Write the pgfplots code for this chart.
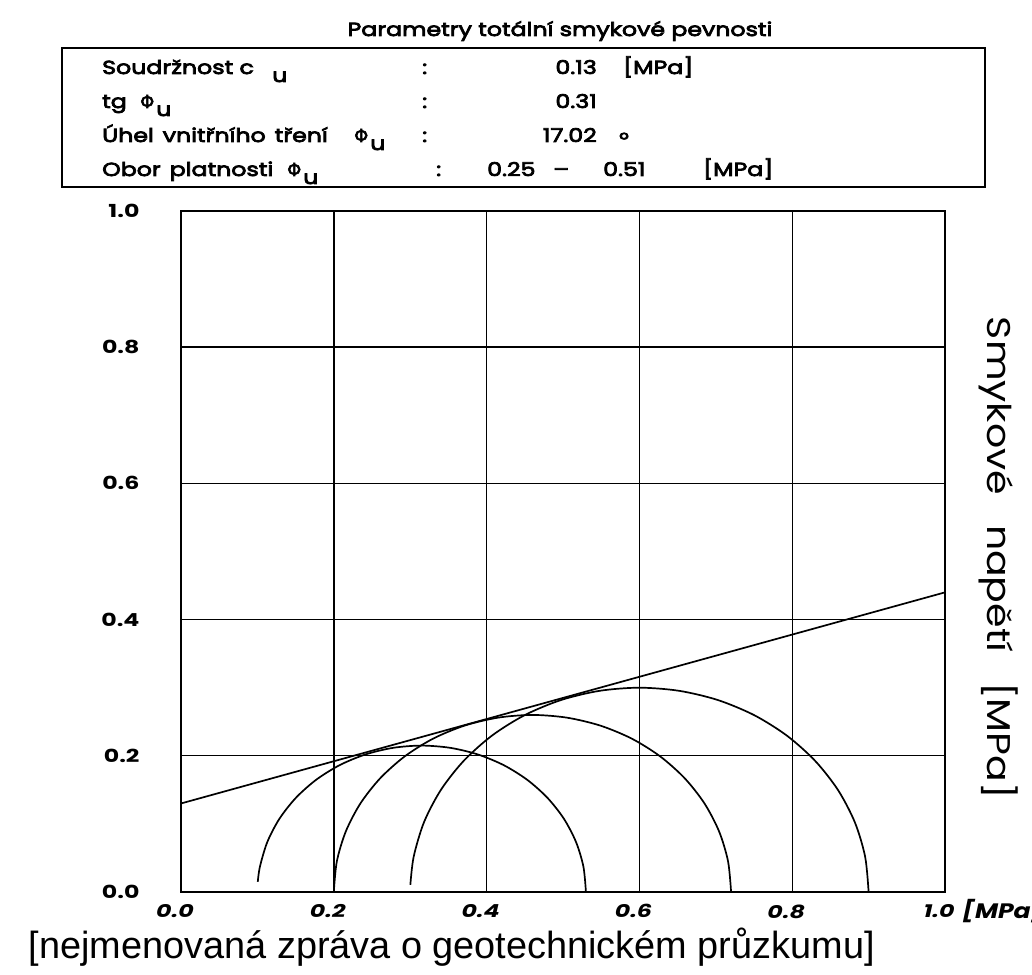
\documentclass[border=0pt]{standalone}
\usepackage{pgfplots}
\pgfplotsset{compat=1.18}
\usepackage{fontspec}
\setmainfont{Poppins}
% wide plotter-like lettering
\newfontfamily\pf{Poppins}[FakeStretch=1.2]
\newfontfamily\pft{Poppins}[FakeStretch=1.32]
\newfontfamily\pfm{Poppins}[FakeStretch=1.25, FakeBold=4]
\newfontfamily\capfont{Liberation Sans}
\newfontfamily\grk{DejaVu Sans}[FakeBold=3]

\begin{document}
\begin{tikzpicture}[x=1bp,y=1bp]
\useasboundingbox (0,0) rectangle (1032,975);

\begin{axis}[
  at={(181bp,83bp)}, anchor=south west,
  scale only axis, width=764bp, height=681bp,
  xmin=0, xmax=1, ymin=0, ymax=1,
  xtick={0,0.2,0.4,0.6,0.8,1}, ytick={0,0.2,0.4,0.6,0.8,1},
  xticklabels={0.0,0.2,0.4,0.6,0.8,1.0},
  yticklabels={0.0,0.2,0.4,0.6,0.8,1.0},
  grid=major, major grid style={black, line width=1.4bp},
  axis line style={black, line width=1.9bp},
  major tick length=0pt,
  xticklabel style={font=\pft\fontsize{18}{20}\selectfont\bfseries\itshape, xshift=-6bp, yshift=-9bp},
  yticklabel style={font=\pft\fontsize{18}{20}\selectfont\bfseries, xshift=-38bp},
]
% failure envelope tau = c_u + sigma * tg(phi_u)
\addplot[black, line width=1.7bp] coordinates {(0,0.13) (1,0.44)};
% Mohr circles
\addplot[black, line width=1.7bp, smooth] coordinates {
 (0.530,0) (0.5267,0.0373) (0.5170,0.0735) (0.5012,0.1075) (0.4797,0.1382)
 (0.4532,0.1647) (0.4225,0.1862) (0.3885,0.2020) (0.3523,0.2117) (0.315,0.215)
 (0.2777,0.2117) (0.2415,0.2020) (0.2075,0.1862) (0.1768,0.1647) (0.1503,0.1382)
 (0.1288,0.1075) (0.1130,0.0735) (0.1033,0.0373) (0.1005,0.0150)};
\addplot[black, line width=1.7bp, smooth] coordinates {
 (0.72,0) (0.7160,0.0451) (0.7043,0.0889) (0.6852,0.13) (0.6592,0.1671)
 (0.6271,0.1992) (0.59,0.2252) (0.5489,0.2443) (0.5051,0.2560) (0.46,0.26)
 (0.4149,0.2560) (0.3711,0.2443) (0.33,0.2252) (0.2929,0.1992) (0.2608,0.1671)
 (0.2348,0.13) (0.2157,0.0889) (0.2040,0.0451) (0.20,0)};
\addplot[black, line width=1.7bp, smooth] coordinates {
 (0.90,0) (0.8954,0.0521) (0.8819,0.1026) (0.8598,0.15) (0.8298,0.1928)
 (0.7928,0.2298) (0.75,0.2598) (0.7026,0.2819) (0.6521,0.2954) (0.60,0.30)
 (0.5479,0.2954) (0.4974,0.2819) (0.45,0.2598) (0.4072,0.2298) (0.3702,0.1928)
 (0.3402,0.15) (0.3181,0.1026) (0.3046,0.0521) (0.3002,0.0105)};
\end{axis}

% x unit, cut by the page edge
\node[anchor=west, inner sep=0pt, font=\pf\fontsize{21}{23}\selectfont\bfseries\itshape] at (962,64) {[MPa]};
% y axis title on the right
\node[rotate=-90, inner sep=0pt, font=\pf\fontsize{33}{36}\selectfont] at (999,417)
  {Smykové\hspace{30bp}napětí\hspace{30bp}[MPa]};

% parameter table
\tikzset{bt/.style={anchor=base west, inner sep=0pt, font=\pfm\fontsize{19}{22}\selectfont},
         br/.style={anchor=base east, inner sep=0pt, font=\pfm\fontsize{19}{22}\selectfont},
         ph/.style={anchor=base west, inner sep=0pt, font=\grk\fontsize{18}{22}\selectfont}}
\node[anchor=base, inner sep=0pt, font=\pfm\fontsize{19}{22}\selectfont] at (560,939) {Parametry totální smykové pevnosti};
\draw[line width=1.6bp] (62,927) rectangle (985,788);
% row 1
\node[bt] at (102,901) {Soudržnost c};
\node[bt] at (272,893) {u};
\node[bt] at (422,901) {:};
\node[br] at (597,901) {0.13};
\node[bt] at (623,901) {[MPa]};
% row 2
\node[bt] at (102,867) {tg};
\node[ph] at (140,867) {Φ};
\node[bt] at (156,859) {u};
\node[bt] at (422,867) {:};
\node[br] at (597,867) {0.31};
% row 3
\node[bt] at (102,833) {Úhel\hspace{9bp}vnitřního\hspace{9bp}tření};
\node[ph] at (354,833) {Φ};
\node[bt] at (370,825) {u};
\node[bt] at (422,833) {:};
\node[br] at (597,833) {17.02};
\node[bt] at (619,829) {°};
% row 4
\node[bt] at (102,799) {Obor\hspace{9bp}platnosti};
\node[ph] at (287,799) {Φ};
\node[bt] at (303,791) {u};
\node[bt] at (436,799) {:};
\node[bt] at (487,799) {0.25};
\node[bt] at (553,799) {–};
\node[bt] at (603,799) {0.51};
\node[bt] at (703,799) {[MPa]};

% source line
\node[anchor=base east, inner sep=0pt, font=\capfont\fontsize{38}{42}\selectfont] at (875,16) {[nejmenovaná zpráva o geotechnickém průzkumu]};
\end{tikzpicture}
\end{document}
